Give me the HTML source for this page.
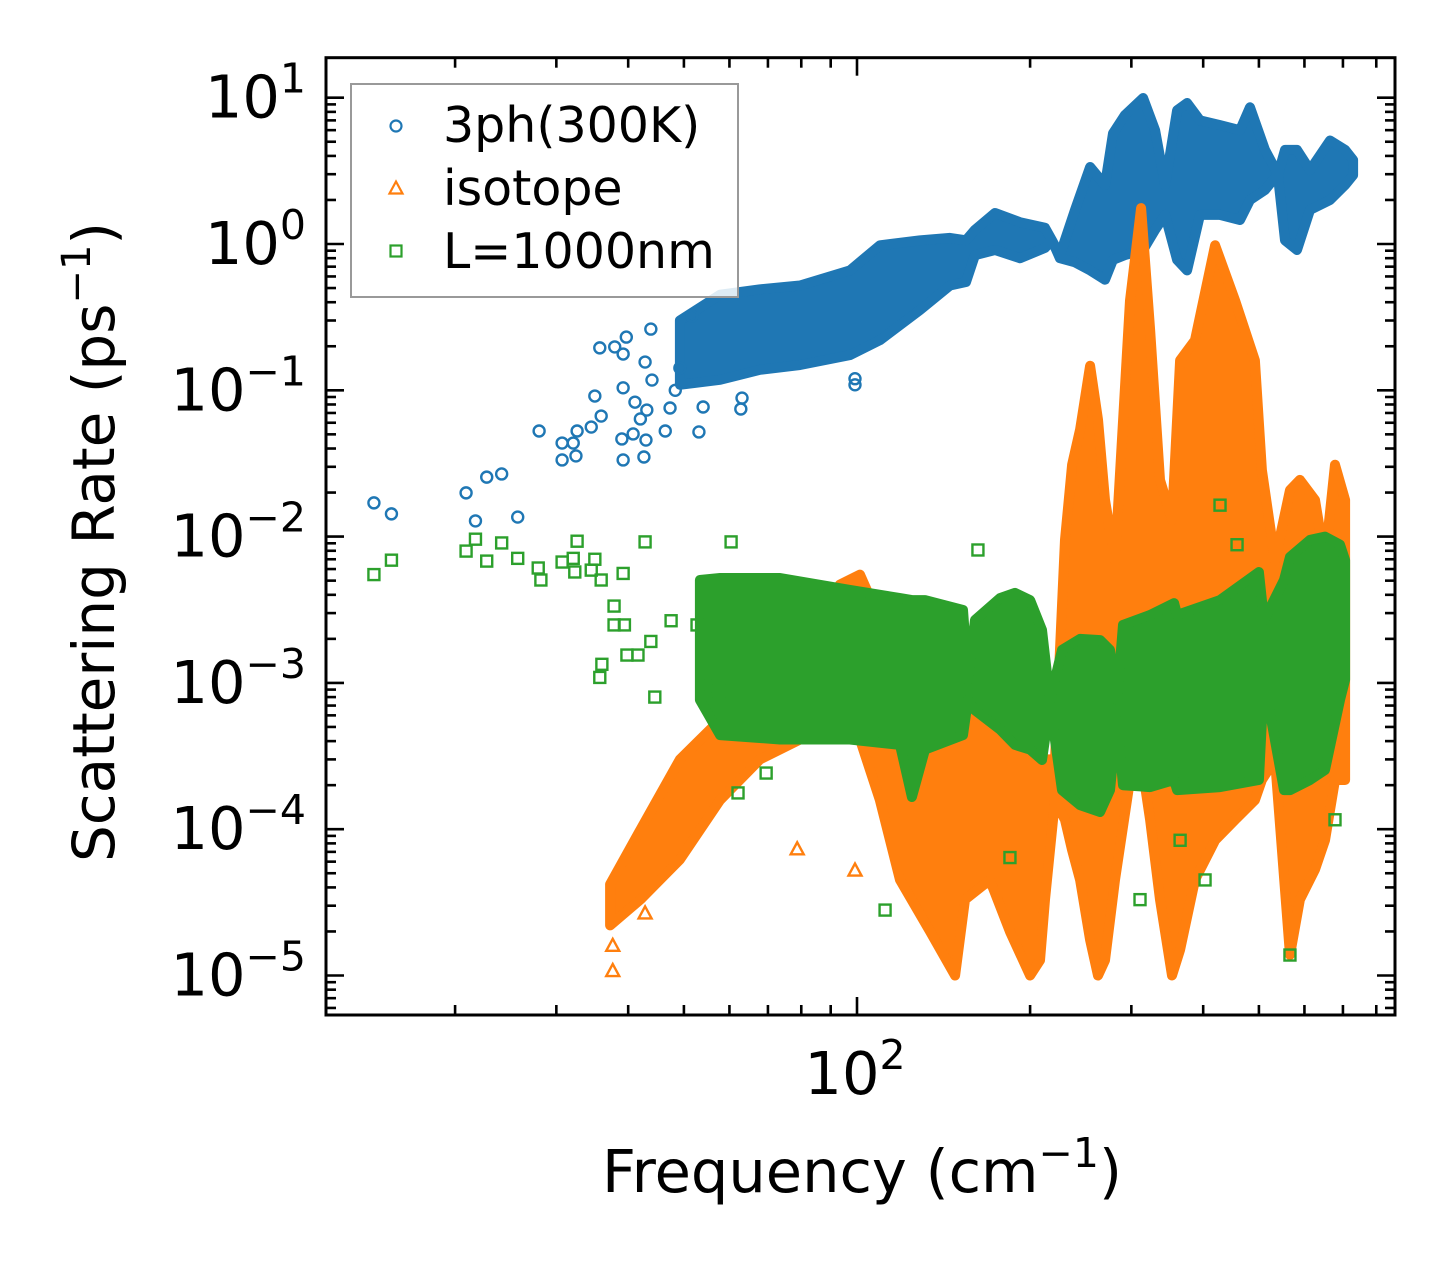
<!DOCTYPE html>
<html><head><meta charset="utf-8"><style>
html,body{margin:0;padding:0;background:#fff;}
svg{display:block;font-family:"DejaVu Sans","Liberation Sans",sans-serif;}
</style></head><body>
<svg id="chart" width="1455" height="1265" viewBox="0 0 1455 1265" xmlns="http://www.w3.org/2000/svg">
<rect x="0" y="0" width="1455" height="1265" fill="#fff"/>
<g id="plot"></g>
<g id="axes"></g>
<g id="legend">
  <rect x="351" y="84" width="387" height="213" fill="#fff" fill-opacity="0.85" stroke="#999" stroke-width="2"/>
  <circle cx="396" cy="126" r="5.5" fill="none" stroke="#1f77b4" stroke-width="2.2"/>
  <path d="M389.5,193.5 L396,181.5 L402.5,193.5 Z" fill="none" stroke="#ff7f0e" stroke-width="2.2"/>
  <rect x="390.5" y="245.5" width="11" height="11" fill="none" stroke="#2ca02c" stroke-width="2.2"/>
  <text x="443" y="142" font-size="49">3ph(300K)</text>
  <text x="443" y="205" font-size="49">isotope</text>
  <text x="443" y="268" font-size="49">L=1000nm</text>
</g>
<text x="862" y="1192" font-size="59" text-anchor="middle">Frequency (cm<tspan font-size="41" dy="-25">−1</tspan><tspan dy="25">)</tspan></text>
<text transform="translate(114,542) rotate(-90)" font-size="58" text-anchor="middle">Scattering Rate (ps<tspan font-size="40" dy="-24">−1</tspan><tspan dy="24">)</tspan></text>
</svg>
<script>
// ---- data (frequency in cm^-1, rate in ps^-1) ----
const blueBandFreq=[49.2,57.8,67.8,79.6,97.2,109.6,128.7,145.1,154.7,160.4,173.8,192.1,212.3,218.3,225.4,239.4,254.3,270,278.7,292.4,314.4,329.9,343.4,360.3,375,395,427.9,463.5,482.5,512.3,529,539.5,555,582.3,613.4,664.6,706.1,729];
const blueBandHi=[0.30,0.45,0.49,0.52,0.66,0.98,1.06,1.10,1.06,1.25,1.63,1.41,1.29,1.06,0.84,1.71,3.36,2.53,5.7,7.6,9.95,6.0,2.53,8.2,9.2,7.0,6.5,6.0,8.6,4.4,3.47,2.96,4.4,4.4,3.2,5.1,4.4,3.75];
const blueBandLo=[0.109,0.118,0.138,0.149,0.174,0.22,0.354,0.52,0.55,0.84,0.91,0.80,0.94,1.06,0.80,0.75,0.66,0.57,0.78,0.84,0.91,1.25,1.58,0.78,0.66,1.58,1.58,1.46,2.0,2.34,2.74,2.96,1.06,0.91,1.71,2.0,2.53,2.96];
const blueFreq=[14.45,15.5,20.9,21.7,22.7,24.1,25.7,28.0,30.7,30.7,32.1,32.45,32.6,34.5,35.9,35.0,35.7,37.9,39.2,39.7,39.2,41.1,39.0,39.2,40.8,42.6,42.95,42.0,43.1,42.8,44.0,43.8,46.4,53.1,62.8,63.1,51.6,48.3,47.3,54.0,49.2,99.2,99.2];
const blueRate=[0.0170,0.0143,0.0199,0.0128,0.0255,0.0268,0.0136,0.0527,0.0436,0.0334,0.0436,0.0356,0.0527,0.0561,0.0667,0.0914,0.195,0.198,0.177,0.231,0.104,0.083,0.0465,0.0334,0.0503,0.035,0.0457,0.0637,0.0733,0.156,0.1175,0.262,0.0527,0.0519,0.0745,0.0885,0.322,0.1,0.0757,0.0769,0.142,0.109,0.12];

const orangeBandFreq=[37.2,42.0,49.2,57.8,67.8,79.6,93.4,101.2,109.6,118.8,134,148.1,154.1,170.3,184.5,200,208.1,212.3,221,230,236.6,244.3,254.3,262.5,270,281,298.4,311.9,323.4,336.5,353.1,364.7,387.1,419.5,454.5,492.1,506.1,533.3,566.2,589.3,625.8,651.4,678.1,706.1];
const orangeBandHi=[4.2e-5,9.9e-5,3.0e-4,5.6e-4,1.05e-3,1.96e-3,4.7e-3,5.5e-3,2.7e-3,1.7e-3,1.05e-3,7.7e-4,5.6e-4,7.7e-4,5.6e-4,4.1e-4,3.0e-4,3.0e-4,3.0e-4,9.5e-3,0.031,0.054,0.147,0.063,0.0178,6.9e-3,0.41,1.76,0.26,0.0244,0.013,0.16,0.22,0.98,0.41,0.16,0.0285,6.9e-3,0.0208,0.0244,0.0178,6.9e-3,0.031,0.0178];
const orangeBandLo=[2.2e-5,3.3e-5,6.2e-5,1.58e-4,3.0e-4,4.1e-4,5.6e-4,4.1e-4,1.58e-4,4.5e-5,2.0e-5,1.0e-5,3.3e-5,4.5e-5,2.0e-5,1.0e-5,1.27e-5,3.3e-5,1.58e-4,1.16e-4,7.2e-5,4.5e-5,1.75e-5,1.0e-5,1.27e-5,4.5e-5,2.17e-4,3.0e-4,1.16e-4,3.3e-5,1.0e-5,1.5e-5,4.5e-5,8.4e-5,1.16e-4,1.58e-4,2.17e-4,3.0e-4,1.38e-5,3.3e-5,5.3e-5,8.4e-5,2.17e-4,2.17e-4];
const orangeFreq=[37.6,37.6,42.8,78.7,99.2];
const orangeRate=[1.62e-5,1.09e-5,2.7e-5,7.4e-5,5.3e-5];

const greenBandFreq=[53.3,57.8,73.5,97.2,118.8,124.6,131.3,152.9,156,160.4,177.3,188.3,200,209.8,216.6,227.3,244.3,264.7,275.4,283.2,290.1,323.4,356,360.3,427.9,500,510.2,552.8,566.2,613.4,651.4,691.8,706.1];
const greenBandHi=[5.05e-3,5.21e-3,5.21e-3,4.32e-3,3.8e-3,3.68e-3,3.68e-3,3.15e-3,1.05e-3,2.69e-3,3.8e-3,4.12e-3,3.68e-3,2.3e-3,7.65e-4,1.68e-3,2.0e-3,1.96e-3,1.68e-3,7.65e-4,2.49e-3,2.91e-3,3.51e-3,2.91e-3,3.68e-3,5.73e-3,2.69e-3,5.05e-3,7.26e-3,9.5e-3,1.0e-2,8.8e-3,6.9e-3];
const greenBandLo=[7.65e-4,4.4e-4,4.1e-4,4.1e-4,3.77e-4,1.66e-4,3.5e-4,4.4e-4,7.65e-4,6.5e-4,4.8e-4,3.77e-4,3.5e-4,2.97e-4,7.1e-4,1.85e-4,1.46e-4,1.31e-4,1.85e-4,5.6e-4,2.0e-4,1.94e-4,2.17e-4,1.85e-4,1.94e-4,2.17e-4,1.05e-3,1.85e-4,1.85e-4,2.17e-4,2.54e-4,7.65e-4,1.05e-3];
const greenFreq=[14.45,15.5,20.9,21.7,22.7,24.1,25.7,27.9,28.2,30.7,32.1,32.6,32.3,35.0,35.9,34.5,37.8,37.8,39.4,36.0,35.7,39.8,41.6,43.8,44.5,47.5,39.2,54.4,57.5,63.1,69.5,62.1,52.7,60.4,42.8,427.9,458.1,403,566.2,678.1,364.7,310.6,184.5,111.9,162.3];
const greenRate=[5.5e-3,6.9e-3,7.96e-3,9.6e-3,6.8e-3,9.05e-3,7.1e-3,6.1e-3,5.05e-3,6.7e-3,7.1e-3,9.3e-3,5.73e-3,7.0e-3,5.05e-3,5.9e-3,3.35e-3,2.49e-3,2.49e-3,1.34e-3,1.09e-3,1.55e-3,1.55e-3,1.92e-3,8.0e-4,2.66e-3,5.6e-3,9.5e-4,8.8e-4,4.5e-4,2.42e-4,1.77e-4,2.49e-3,9.2e-3,9.2e-3,0.0164,8.8e-3,4.5e-5,1.38e-5,1.16e-4,8.4e-5,3.3e-5,6.4e-5,2.8e-5,8.1e-3];

const yTickExps=[1,0,-1,-2,-3,-4,-5];
const xTickExps=[2];

// ---- axis functions ----
const X0=326,X1=1395,Y0=57.7,Y1=1015;
const xRef=857, xDec=575, yRef=97.7, yDec=146.3;
function xs(f){return xRef+xDec*(Math.log10(f)-2);}
function ys(r){return yRef-yDec*(Math.log10(r)-1);}
const NS='http://www.w3.org/2000/svg';
const plot=document.getElementById('plot');
const axes=document.getElementById('axes');
function mk(tag,attrs,parent){const e=document.createElementNS(NS,tag);for(const k in attrs)e.setAttribute(k,attrs[k]);parent.appendChild(e);return e;}

const clip=mk('clipPath',{id:'clip'},plot);
mk('rect',{x:X0,y:Y0,width:X1-X0,height:Y1-Y0},clip);
const g=mk('g',{'clip-path':'url(#clip)'},plot);



function band(fr,hi,lo,color,name){
  const pts=[];
  for(let i=0;i<fr.length;i++)pts.push(xs(fr[i]).toFixed(1)+','+ys(hi[i]).toFixed(1));
  for(let i=fr.length-1;i>=0;i--)pts.push(xs(fr[i]).toFixed(1)+','+ys(lo[i]).toFixed(1));
  const p=mk('polygon',{points:pts.join(' '),fill:color,stroke:color,'stroke-width':10,'stroke-linejoin':'round'},g);
  
  
}
function pointsC(fr,rt,name){
  for(let i=0;i<fr.length;i++){
    const c=mk('circle',{cx:xs(fr[i]),cy:ys(rt[i]),r:5.5,fill:'none',stroke:'#1f77b4','stroke-width':2.4},g);
    
    
  }
}
function pointsT(fr,rt,name){
  for(let i=0;i<fr.length;i++){
    const x=xs(fr[i]),y=ys(rt[i]);
    const c=mk('path',{d:`M${x-6.5},${y+6} L${x},${y-6} L${x+6.5},${y+6} Z`,fill:'none',stroke:'#ff7f0e','stroke-width':2.4},g);
    
    
  }
}
function pointsS(fr,rt,name){
  for(let i=0;i<fr.length;i++){
    const c=mk('rect',{x:xs(fr[i])-5.5,y:ys(rt[i])-5.5,width:11,height:11,fill:'none',stroke:'#2ca02c','stroke-width':2.4},g);
    
    
  }
}
band(blueBandFreq,blueBandHi,blueBandLo,'#1f77b4','3ph-dense-band');
pointsC(blueFreq,blueRate,'3ph-point');
band(orangeBandFreq,orangeBandHi,orangeBandLo,'#ff7f0e','isotope-dense-band');
pointsT(orangeFreq,orangeRate,'isotope-point');
band(greenBandFreq,greenBandHi,greenBandLo,'#2ca02c','boundary-dense-band');
pointsS(greenFreq,greenRate,'boundary-point');

// ---- axes ----
const frame=mk('rect',{x:X0,y:Y0,width:X1-X0,height:Y1-Y0,fill:'none',stroke:'#000','stroke-width':3},axes);


function tick(x1,y1,x2,y2,name){
  const t=mk('line',{x1:x1,y1:y1,x2:x2,y2:y2,stroke:'#000','stroke-width':2.6},axes);
  
  
}
for(let e=-6;e<=1;e++){
  for(let k=1;k<10;k++){
    const v=k*Math.pow(10,e);const y=ys(v);
    if(y<Y0+1||y>Y1-1)continue;
    const L=(k===1)?18:10;
    tick(X0,y,X0+L,y,k===1?'y-major-tick':'y-minor-tick');
    tick(X1,y,X1-L,y,k===1?'y-major-tick-right':'y-minor-tick-right');
  }
}
for(let e=1;e<=2;e++){
  for(let k=1;k<10;k++){
    const v=k*Math.pow(10,e);const x=xs(v);
    if(x<X0+1||x>X1-1)continue;
    const L=(k===1)?18:10;
    tick(x,Y1,x,Y1-L,k===1?'x-major-tick':'x-minor-tick');
    tick(x,Y0,x,Y0+L,k===1?'x-major-tick-top':'x-minor-tick-top');
  }
}
yTickExps.forEach(e=>{
  const t=mk('text',{x:306,y:ys(Math.pow(10,e))+20,'font-size':59,'text-anchor':'end'},axes);
  
  
  t.appendChild(document.createTextNode('10'));
  const s=mk('tspan',{'font-size':41,dy:-25},t);
  s.textContent=(e<0?'−':'')+Math.abs(e);
});
xTickExps.forEach(e=>{
  const t=mk('text',{x:xs(Math.pow(10,e))-2,y:1094,'font-size':59,'text-anchor':'middle'},axes);
  
  
  t.appendChild(document.createTextNode('10'));
  const s=mk('tspan',{'font-size':41,dy:-25},t);
  s.textContent=String(e);
});
</script>
</body></html>
